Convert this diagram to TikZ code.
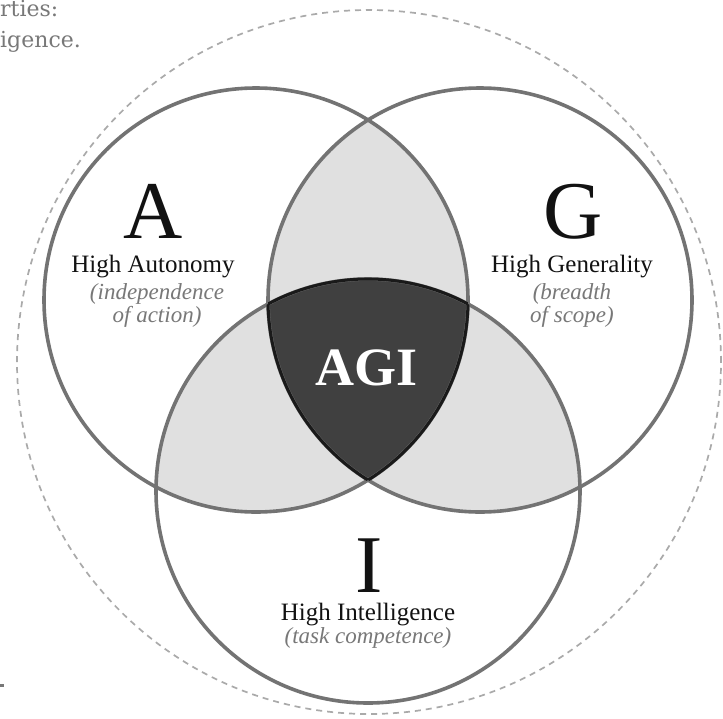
\documentclass[tikz,border=0pt]{standalone}
\usepackage{fontspec}
\setmainfont{Liberation Serif}
\newfontfamily\notefont{DejaVu Serif}
\definecolor{ringgray}{RGB}{115,115,115}
\definecolor{lightfill}{RGB}{224,224,224}
\definecolor{darkfill}{RGB}{64,64,64}
\definecolor{darkedge}{RGB}{26,26,26}
\definecolor{dashgray}{RGB}{170,170,170}
\definecolor{notegray}{RGB}{120,120,120}
\definecolor{inkblack}{RGB}{18,18,18}
\tikzset{
  ring/.style={draw=ringgray, line width=3.6pt},
  agiedge/.style={draw=darkedge, line width=3pt},
  outerring/.style={draw=dashgray, line width=1.7pt, dash pattern=on 6pt off 5pt},
  bigletter/.style={anchor=base, inner sep=0pt, text depth=0pt, text=inkblack, font=\fontsize{82}{82}\selectfont},
  setname/.style={anchor=base, inner sep=0pt, text height=17pt, text=inkblack, font=\fontsize{25}{25}\selectfont},
  setnote/.style={anchor=base, inner sep=0pt, text=notegray, font=\fontsize{23}{23}\selectfont\itshape},
  agilabel/.style={anchor=base, inner sep=0pt, text=white, font=\fontsize{54}{54}\selectfont\bfseries},
  sidenote/.style={anchor=base west, inner sep=0pt, text=notegray, font=\notefont\fontsize{22}{22}\selectfont}
}
\begin{document}
\begin{tikzpicture}[x=1pt,y=-1pt]
\useasboundingbox (0,0) rectangle (723,718);
\fill[white] (0,0) rectangle (723,718);
\clip (0,0) rectangle (723,718);

\def\R{212pt}
\coordinate (cA) at (256,300);
\coordinate (cG) at (480,300);
\coordinate (cI) at (368,491);
\coordinate (cO) at (369,362);

% surrounding dashed boundary
\draw[outerring] (cO) circle[radius=352pt];

% pairwise overlaps
\begin{scope}
  \clip (cA) circle[radius=\R];
  \fill[lightfill] (cG) circle[radius=\R];
  \fill[lightfill] (cI) circle[radius=\R];
\end{scope}
\begin{scope}
  \clip (cG) circle[radius=\R];
  \fill[lightfill] (cI) circle[radius=\R];
\end{scope}
% triple overlap
\begin{scope}
  \clip (cA) circle[radius=\R];
  \clip (cG) circle[radius=\R];
  \fill[darkfill] (cI) circle[radius=\R];
\end{scope}

% the three sets
\draw[ring] (cA) circle[radius=\R];
\draw[ring] (cG) circle[radius=\R];
\draw[ring] (cI) circle[radius=\R];

% outline of the triple overlap
\begin{scope}
  \clip (cA) circle[radius=\R];
  \clip (cG) circle[radius=\R];
  \draw[agiedge] (cI) circle[radius=\R];
\end{scope}
\begin{scope}
  \clip (cA) circle[radius=\R];
  \clip (cI) circle[radius=\R];
  \draw[agiedge] (cG) circle[radius=\R];
\end{scope}
\begin{scope}
  \clip (cG) circle[radius=\R];
  \clip (cI) circle[radius=\R];
  \draw[agiedge] (cA) circle[radius=\R];
\end{scope}

% labels
\node[bigletter] (letA) at (153,238) {A};
\node[setname] (nameA) at (153,272) {High Autonomy};
\node[setnote] (noteA1) at (157,299) {(independence};
\node[setnote] (noteA2) at (157,322) {of action)};

\node[bigletter] (letG) at (573,238) {G};
\node[setname] (nameG) at (572,272) {High Generality};
\node[setnote] (noteG1) at (572,299) {(breadth};
\node[setnote] (noteG2) at (572,322) {of scope)};

\node[bigletter] (letI) at (369,592) {I};
\node[setname] (nameI) at (368,620) {High Intelligence};
\node[setnote] (noteI) at (368,643) {(task competence)};

\node[agilabel] (agi) at (367,385) {AGI};

% text running in from the left margin
\node[sidenote] (side1) at (0,16) {rties:};
\node[sidenote] (side2) at (0,47) {igence.};
\fill[notegray] (0,684) rectangle (3.5,686.5);
\end{tikzpicture}
\end{document}
